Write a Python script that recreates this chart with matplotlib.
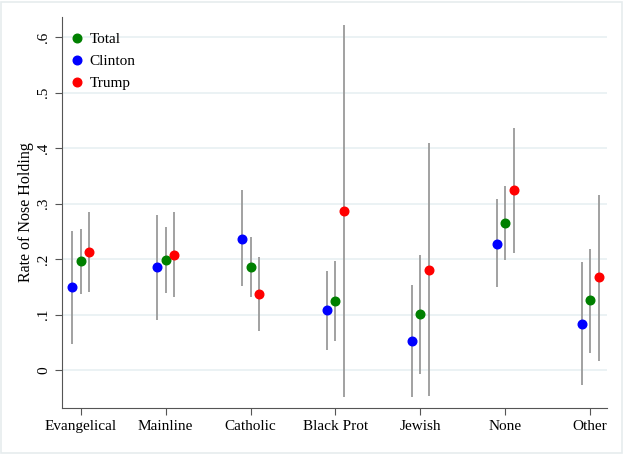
import numpy as np
import matplotlib.pyplot as plt
from matplotlib.patches import Rectangle

plt.rcParams["font.family"] = ["Liberation Serif", "DejaVu Serif"]

categories = ["Evangelical", "Mainline", "Catholic", "Black Prot", "Jewish", "None", "Other"]

total = [0.196, 0.199, 0.185, 0.124, 0.101, 0.265, 0.126]
total_lo = [0.138, 0.139, 0.131, 0.052, -0.007, 0.199, 0.031]
total_hi = [0.255, 0.258, 0.239, 0.196, 0.207, 0.331, 0.219]

clinton = [0.149, 0.185, 0.236, 0.108, 0.052, 0.228, 0.084]
clinton_lo = [0.048, 0.090, 0.151, 0.037, -0.048, 0.149, -0.027]
clinton_hi = [0.250, 0.279, 0.324, 0.178, 0.153, 0.309, 0.194]

trump = [0.212, 0.208, 0.137, 0.286, 0.181, 0.324, 0.167]
trump_lo = [0.141, 0.131, 0.070, -0.049, -0.047, 0.211, 0.017]
trump_hi = [0.284, 0.284, 0.204, 0.621, 0.409, 0.437, 0.315]

yticks = [0, 0.1, 0.2, 0.3, 0.4, 0.5, 0.6]
ytick_labels = ["0", ".1", ".2", ".3", ".4", ".5", ".6"]

fig = plt.figure(figsize=(6.24, 4.54), dpi=100)
ax = fig.add_axes([0.0994, 0.1013, 0.8736, 0.8613])

x = np.arange(1, len(categories) + 1)
series = [
    ("Clinton", clinton, clinton_lo, clinton_hi, "blue", -0.1),
    ("Total", total, total_lo, total_hi, "green", 0.0),
    ("Trump", trump, trump_lo, trump_hi, "red", 0.1),
]
handles = {}
for name, vals, lo, hi, col, off in series:
    xs = x + off
    ax.vlines(xs, lo, hi, color="#9a9a9a", linewidth=1.3, zorder=2)
    h, = ax.plot(xs, vals, "o", color=col, markersize=6.2, linestyle="none", zorder=3, label=name)
    handles[name] = h

ax.set_xlim(0.78, 7.2)
ax.set_ylim(-0.068, 0.636)
ax.set_xticks(x)
ax.set_xticklabels(categories, fontsize=11)
ax.set_yticks(yticks)
ax.set_yticklabels(ytick_labels, fontsize=11, rotation=90, va="center")
ax.set_ylabel("Rate of Nose Holding", fontsize=11.5, labelpad=2)

ax.grid(axis="y", color="#e8f0f2", linewidth=1.2)
ax.set_axisbelow(True)
for s in ["top", "right"]:
    ax.spines[s].set_visible(False)
for s in ["left", "bottom"]:
    ax.spines[s].set_color("#555555")
ax.tick_params(colors="#555555", labelcolor="black", length=5)

leg = ax.legend([handles["Total"], handles["Clinton"], handles["Trump"]],
                ["Total", "Clinton", "Trump"], loc="upper left", frameon=False,
                fontsize=11, handletextpad=0.3, handlelength=1.0,
                borderaxespad=0.1, labelspacing=0.55, bbox_to_anchor=(0.0, 0.98))

fig.patches.append(Rectangle((0.002, 0.002), 0.994, 0.994, transform=fig.transFigure,
                             fill=False, edgecolor="#e6ecee", linewidth=1.2))

fig.savefig("out.png", dpi=100)
